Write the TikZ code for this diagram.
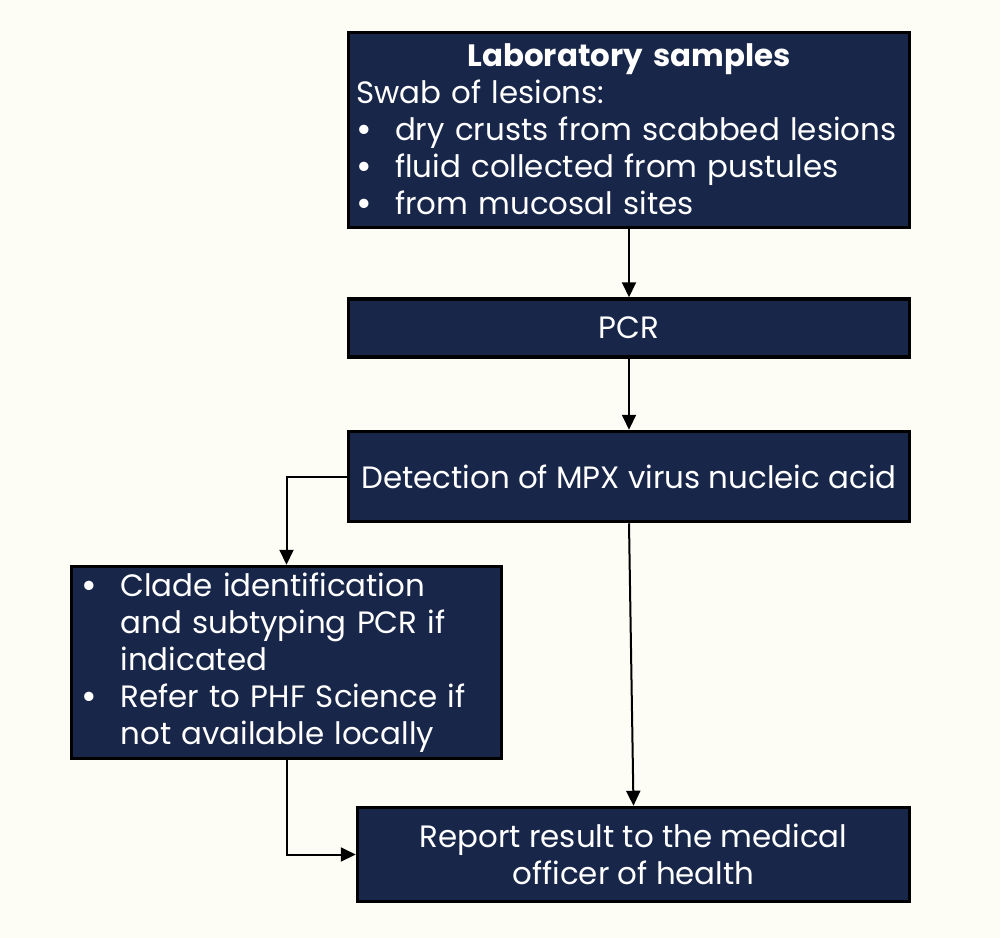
\documentclass[tikz,border=0pt]{standalone}
\usepackage{fontspec}
\setmainfont{Poppins}
\usetikzlibrary{positioning,arrows.meta}

\definecolor{navy}{HTML}{18264A}
\definecolor{paper}{HTML}{FDFDF5}

\tikzstyle{box} = [rectangle, draw=black, line width=3.5bp, fill=navy,
text=white, font=\fontsize{31}{37}\selectfont]
\tikzstyle{wide} = [box, minimum width=561bp]
\tikzstyle{conn} = [line width=2bp, ->, >={Triangle[length=15bp,width=14bp]}]

\newcommand{\bul}{\makebox[39bp][l]{\raisebox{-2bp}{\fontsize{38}{37}\selectfont•}}}

\begin{document}
\begin{tikzpicture}[x=1bp, y=-1bp]
  \fill[paper] (0,0) rectangle (1000,938);
  \node (lab) [wide, minimum height=195bp, text width=546bp, inner xsep=5bp, align=left] at (629,130)
    {\centerline{\bfseries Laboratory samples}\\
     Swab of lesions:\\
     \bul dry crusts from scabbed lesions\\
     \bul fluid collected from pustules\\
     \bul from mucosal sites};
  \node (pcr) [wide, minimum height=58bp, below=68bp of lab] {PCR};
  \node (det) [wide, minimum height=90bp, below=71bp of pcr] {Detection of MPX virus nucleic acid};
  \node (clade) [box, minimum width=430bp, minimum height=192bp, text width=410bp, align=left] at (286.5,662.5)
    {\bul Clade identification\\
     \hspace*{39bp}and subtyping PCR if\\
     \hspace*{39bp}indicated\\
     \bul Refer to PHF Science if\\
     \hspace*{39bp}not available locally};
  \node (report) [box, minimum width=552bp, minimum height=94bp, align=center] at (633.5,854.5)
    {Report result to the medical\\officer of health};
  % connections
  \draw [conn] (lab) -- (pcr);
  \draw [conn] (pcr) -- (det);
  \draw [conn] (det.west) -| (clade.north);
  \draw [conn] (det.south) -- (report.north);
  \draw [conn] (clade.south) |- (report.west);
\end{tikzpicture}
\end{document}
